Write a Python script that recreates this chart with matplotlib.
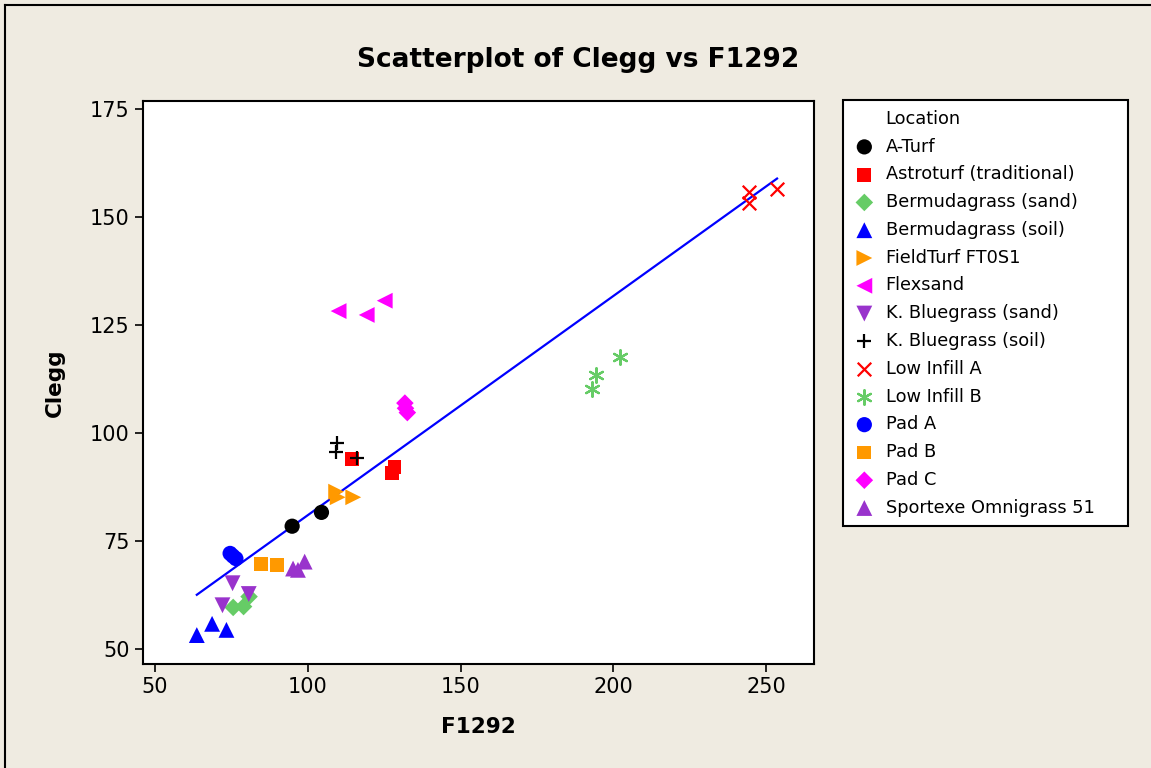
import numpy as np
import matplotlib
matplotlib.use("Agg")
import matplotlib.pyplot as plt
from matplotlib.lines import Line2D

# data (F1292, Clegg) per location
locations = ["A-Turf", "Astroturf (traditional)", "Bermudagrass (sand)",
             "Bermudagrass (soil)", "FieldTurf FT0S1", "Flexsand",
             "K. Bluegrass (sand)", "K. Bluegrass (soil)", "Low Infill A",
             "Low Infill B", "Pad A", "Pad B", "Pad C", "Sportexe Omnigrass 51"]

f1292 = {
    "A-Turf": [94.9, 104.5],
    "Astroturf (traditional)": [114.5, 128.4, 127.6],
    "Bermudagrass (sand)": [75.6, 79.0, 80.8],
    "Bermudagrass (soil)": [63.7, 68.7, 73.4],
    "FieldTurf FT0S1": [109.3, 109.8, 114.9],
    "Flexsand": [110.1, 119.3, 125.2],
    "K. Bluegrass (sand)": [75.4, 80.7, 72.1],
    "K. Bluegrass (soil)": [109.5, 109.3, 116.0],
    "Low Infill A": [244.4, 244.4, 253.6],
    "Low Infill B": [202.3, 194.4, 193.1],
    "Pad A": [74.6, 75.5, 76.5],
    "Pad B": [84.6, 89.8],
    "Pad C": [131.8, 132.0, 132.6],
    "Sportexe Omnigrass 51": [95.2, 99.0, 96.8],
}

clegg = {
    "A-Turf": [78.5, 81.7],
    "Astroturf (traditional)": [94.1, 92.3, 90.9],
    "Bermudagrass (sand)": [59.7, 59.9, 62.2],
    "Bermudagrass (soil)": [53.3, 55.9, 54.5],
    "FieldTurf FT0S1": [86.5, 85.2, 85.2],
    "Flexsand": [128.3, 127.4, 130.7],
    "K. Bluegrass (sand)": [65.3, 62.8, 60.2],
    "K. Bluegrass (soil)": [97.8, 95.6, 94.4],
    "Low Infill A": [155.9, 153.4, 156.5],
    "Low Infill B": [117.6, 113.4, 110.2],
    "Pad A": [72.2, 71.6, 71.0],
    "Pad B": [69.7, 69.5],
    "Pad C": [107.0, 105.8, 104.8],
    "Sportexe Omnigrass 51": [68.7, 70.3, 68.4],
}

styles = {
    "A-Turf": ("o", "black", 120),
    "Astroturf (traditional)": ("s", "#ff0000", 100),
    "Bermudagrass (sand)": ("D", "#66cc66", 80),
    "Bermudagrass (soil)": ("^", "#0000ff", 130),
    "FieldTurf FT0S1": (">", "#ff9900", 130),
    "Flexsand": ("<", "#ff00ff", 130),
    "K. Bluegrass (sand)": ("v", "#9933cc", 130),
    "K. Bluegrass (soil)": ("+", "black", 95),
    "Low Infill A": ("x", "#ff0000", 95),
    "Low Infill B": ((6, 2, 0), "#66cc66", 110),
    "Pad A": ("o", "#0000ff", 120),
    "Pad B": ("s", "#ff9900", 100),
    "Pad C": ("D", "#ff00ff", 80),
    "Sportexe Omnigrass 51": ("^", "#9933cc", 130),
}

bg = "#efebe1"
fig = plt.figure(figsize=(11.51, 7.68), dpi=100, facecolor=bg)
ax = fig.add_axes([0.124, 0.1354, 0.5835, 0.7335])
ax.set_facecolor("white")

# fitted regression line over all points
all_x = np.concatenate([f1292[k] for k in locations])
all_y = np.concatenate([clegg[k] for k in locations])
slope, icpt = np.polyfit(all_x, all_y, 1)
xs = np.array([all_x.min(), all_x.max()])
ax.plot(xs, slope * xs + icpt, color="#0000ff", lw=1.6, zorder=1)

handles = [Line2D([], [], linestyle="none", marker="")]
labels = ["Location"]
for k in locations:
    m, c, s = styles[k]
    lw = 1.6 if m in ("+", "x") or isinstance(m, tuple) else 0
    h = ax.scatter(f1292[k], clegg[k], marker=m, s=s, c=c,
                   linewidths=lw, edgecolors=c if lw else "none", zorder=2)
    handles.append(h)
    labels.append(k)

ax.set_xlim(46.0, 265.8)
ax.set_ylim(46.6, 177.0)
ax.set_xticks([50, 100, 150, 200, 250])
ax.set_yticks([50, 75, 100, 125, 150, 175])
ax.tick_params(labelsize=15, length=6, width=1.2, direction="out",
               top=False, right=False)
for sp in ax.spines.values():
    sp.set_linewidth(1.5)

ax.set_xlabel("F1292", fontsize=15.5, fontweight="bold", labelpad=14)
ax.set_ylabel("Clegg", fontsize=15.5, fontweight="bold", labelpad=18)
fig.text(0.502, 0.922, "Scatterplot of Clegg vs F1292", ha="center",
         va="center", fontsize=19, fontweight="bold")

leg = fig.legend(handles, labels, loc="upper left",
                 bbox_to_anchor=(843 / 1151, 1 - 100 / 768, 285 / 1151, 0),
                 mode="expand", borderaxespad=0, fontsize=12.8,
                 frameon=True, fancybox=False, edgecolor="black",
                 framealpha=1, facecolor="white", scatterpoints=1,
                 handlelength=1.3, handletextpad=0.55, borderpad=0.55,
                 labelspacing=0.55)
leg.get_frame().set_linewidth(1.5)

# figure border (only left and top visible in the reference)
fig.add_artist(Line2D([5 / 1151, 5 / 1151], [0, 1 - 5 / 768], color="black", lw=1.5))
fig.add_artist(Line2D([5 / 1151, 1], [1 - 5 / 768, 1 - 5 / 768], color="black", lw=1.5))

fig.savefig("out.png", dpi=100, facecolor=bg)
